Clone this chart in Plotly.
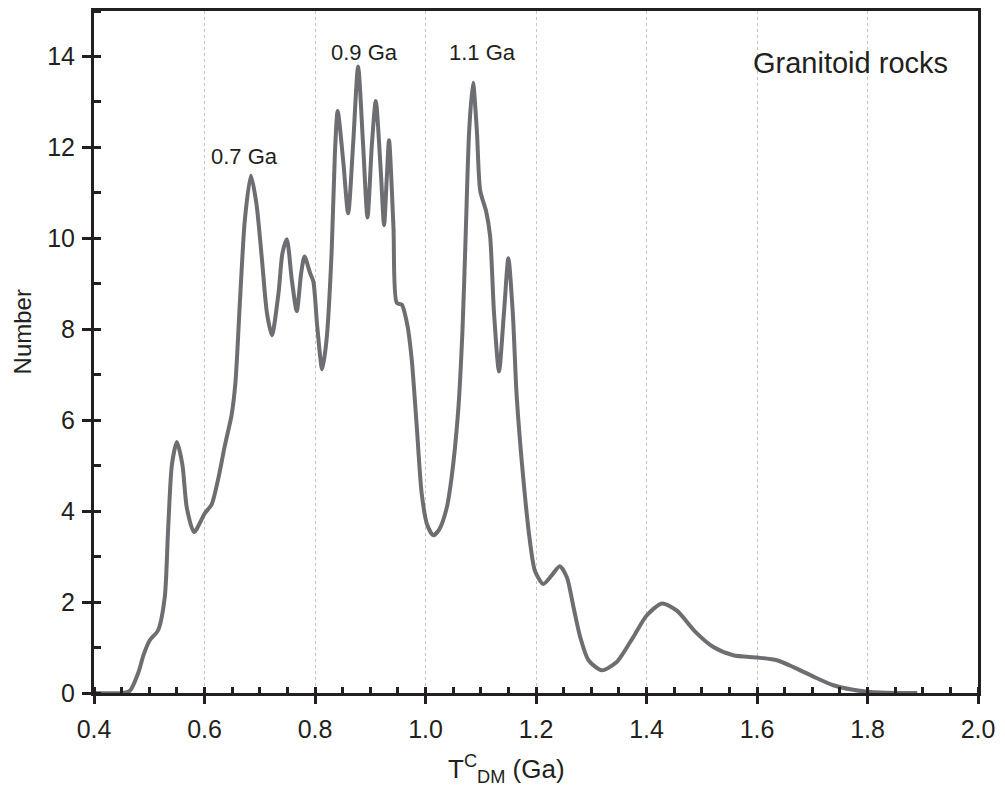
import plotly.graph_objects as go

# Curve (T_DM^C in Ga vs Number)
age_ga = [0.40, 0.45, 0.465, 0.48, 0.49, 0.501, 0.516, 0.528, 0.534, 0.541, 0.550, 0.560, 0.568,
          0.581, 0.601, 0.613, 0.625, 0.637, 0.649, 0.656, 0.664, 0.673, 0.684, 0.694, 0.704,
          0.713, 0.722, 0.734, 0.741, 0.749, 0.758, 0.767, 0.775, 0.781, 0.791, 0.797, 0.804,
          0.813, 0.821, 0.830, 0.836, 0.841, 0.851, 0.860, 0.869, 0.878, 0.887, 0.895, 0.903,
          0.910, 0.919, 0.925, 0.930, 0.934, 0.942, 0.948, 0.957, 0.967, 0.975, 0.984, 0.993,
          1.003, 1.014, 1.025, 1.038, 1.047, 1.059, 1.067, 1.073, 1.079, 1.086, 1.093, 1.099,
          1.110, 1.117, 1.124, 1.133, 1.142, 1.150, 1.158, 1.165, 1.177, 1.189, 1.198, 1.213,
          1.228, 1.243, 1.256, 1.268, 1.280, 1.295, 1.319, 1.346, 1.376, 1.400, 1.428, 1.455,
          1.488, 1.521, 1.557, 1.601, 1.636, 1.666, 1.702, 1.738, 1.774, 1.805, 1.85, 1.89]
number = [0.0, 0.0, 0.05, 0.44, 0.85, 1.16, 1.38, 2.10, 3.56, 5.02, 5.52, 5.02, 4.07,
          3.54, 3.96, 4.15, 4.72, 5.45, 6.11, 6.83, 8.58, 10.40, 11.38, 10.76, 9.53,
          8.36, 7.87, 8.80, 9.67, 9.98, 9.09, 8.40, 9.24, 9.60, 9.24, 9.05, 8.07,
          7.12, 7.78, 9.67, 11.86, 12.80, 11.71, 10.55, 12.07, 13.78, 12.07, 10.46, 12.07,
          13.02, 11.49, 10.29, 11.35, 12.16, 10.25, 8.58, 8.54, 8.10, 7.34, 5.89, 4.40,
          3.70, 3.47, 3.60, 4.05, 4.72, 6.18, 8.00, 10.18, 12.36, 13.42, 12.36, 11.05,
          10.58, 10.04, 8.36, 7.07, 8.36, 9.56, 8.36, 6.54, 4.72, 3.34, 2.69, 2.40,
          2.58, 2.79, 2.54, 1.88, 1.23, 0.72, 0.50, 0.68, 1.23, 1.70, 1.97, 1.81,
          1.35, 1.01, 0.83, 0.78, 0.72, 0.57, 0.36, 0.17, 0.07, 0.02, 0.0, 0.0]

peak_labels = ["0.7 Ga", "0.9 Ga", "1.1 Ga"]
peak_label_x = [0.673, 0.890, 1.104]
peak_label_y = [11.8, 14.08, 14.08]

x_range = [0.4, 2.0]
y_range = [0, 15]
x_ticks = [0.4, 0.6, 0.8, 1.0, 1.2, 1.4, 1.6, 1.8, 2.0]
y_ticks = [0, 2, 4, 6, 8, 10, 12, 14]

INK = "#231f20"
FONT = "Arial, Liberation Sans, sans-serif"

fig = go.Figure()
fig.add_trace(go.Scatter(
    x=age_ga, y=number, mode="lines",
    line=dict(color="#6d6e71", width=4, shape="spline", smoothing=0.7),
    showlegend=False, hoverinfo="skip"))

fig.update_layout(
    width=997, height=782,
    margin=dict(l=86, r=27, t=0, b=97),
    paper_bgcolor="white", plot_bgcolor="white",
    font=dict(family=FONT, color=INK),
    xaxis=dict(range=x_range, tickvals=x_ticks, ticktext=[f"{v:.1f}" for v in x_ticks],
               ticks="outside", ticklen=8, tickwidth=2.5, tickcolor=INK,
               showline=True, linewidth=3, linecolor=INK, mirror=True,
               showgrid=True, gridcolor="#c4c4c4", gridwidth=1, griddash="dot",
               zeroline=False, tickfont=dict(size=25, color=INK), ticklabelstandoff=4,
               minor=dict(ticks="inside", dtick=0.05, tick0=0.4, ticklen=6, tickwidth=2.5,
                          tickcolor=INK, showgrid=False)),
    yaxis=dict(range=y_range, tickvals=y_ticks,
               ticks="outside", ticklen=9, tickwidth=2.5, tickcolor=INK,
               showline=True, linewidth=3, linecolor=INK, mirror=True,
               showgrid=False, zeroline=False, tickfont=dict(size=25, color=INK),
               ticklabelstandoff=2,
               minor=dict(ticks="inside", dtick=1, tick0=0, ticklen=7, tickwidth=2.5,
                          tickcolor=INK, showgrid=False)),
    xaxis2=dict(overlaying="x", anchor="y", side="bottom", range=x_range, tickvals=x_ticks,
                ticks="inside", ticklen=6, tickwidth=2.5, tickcolor=INK,
                showticklabels=False, showline=False, showgrid=False, zeroline=False),
    yaxis2=dict(overlaying="y", anchor="x", side="left", range=y_range, tickvals=y_ticks,
                ticks="inside", ticklen=8, tickwidth=2.5, tickcolor=INK,
                showticklabels=False, showline=False, showgrid=False, zeroline=False),
)

for txt, xv, yv in zip(peak_labels, peak_label_x, peak_label_y):
    fig.add_annotation(x=xv, y=yv, xref="x", yref="y", text=txt, showarrow=False,
                       font=dict(size=22, color=INK, family=FONT))

fig.add_annotation(x=1.770, y=13.86, xref="x", yref="y", text="Granitoid rocks",
                   showarrow=False, font=dict(size=29, color=INK, family=FONT))

fig.add_annotation(x=1.146, y=0, xref="x", yref="paper", yanchor="top", xanchor="center",
                   yshift=-56, text="T<sup>C</sup><sub>DM</sub> (Ga)", showarrow=False,
                   font=dict(size=26, color=INK, family=FONT))

fig.add_annotation(x=0, y=7.93, xref="paper", yref="y", xshift=-72, xanchor="center",
                   yanchor="middle", text="Number",
                   textangle=-90, showarrow=False, font=dict(size=24, color=INK, family=FONT))

fig.write_html("out.html")
